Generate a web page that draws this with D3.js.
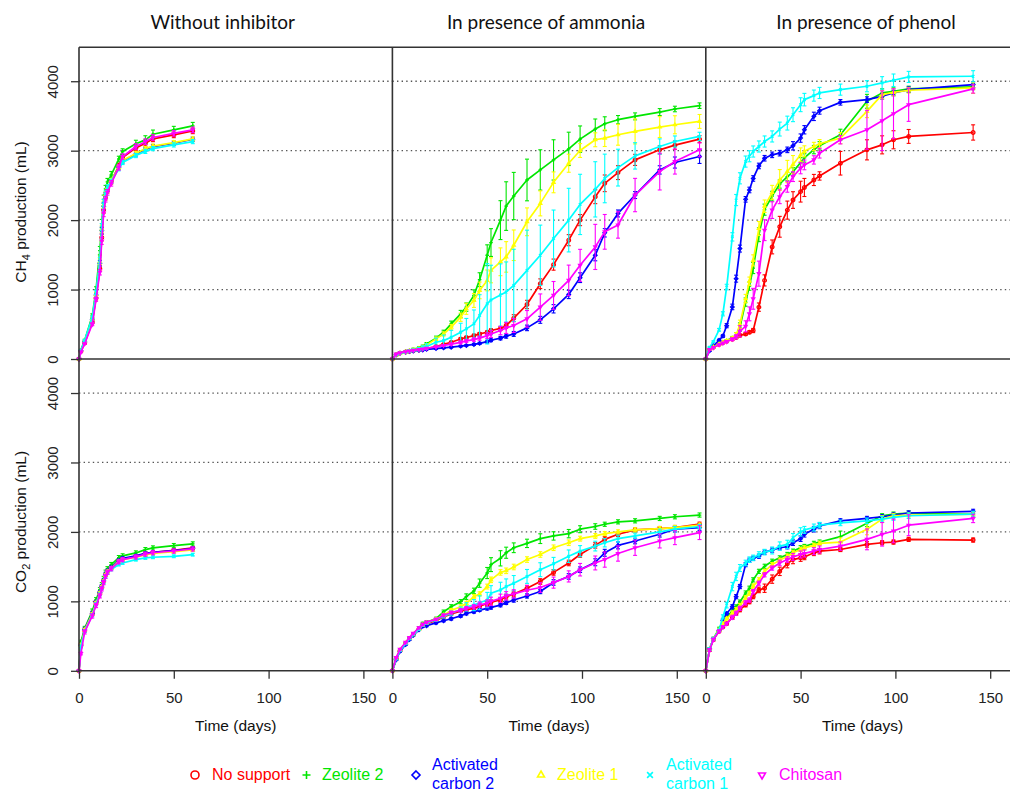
<!DOCTYPE html>
<html lang="en">
<head>
<meta charset="UTF-8">
<title>CH4 and CO2 production</title>
<script src="https://d3js.org/d3.v7.min.js"></script>
<style>
    html, body { margin: 0; background: #fff; }
    svg { display: block; font-family: 'Liberation Sans', Arial, sans-serif; }
    .title { font-family: Lato, 'Open Sans', sans-serif; font-size: 19px; fill: #111; }
    .tick text { font-size: 15px; fill: #222; font-family: 'Liberation Sans', Arial, sans-serif; }
    .tick line { stroke: #333; stroke-width: 1.3; }
    .axis-title { font-size: 15.5px; fill: #111; }
    .legend text { font-size: 16px; }
</style>
</head>
<body>
<svg width="1010" height="792"></svg>
<script>
// series (legend order)
const seriesKeys = ["noSupport", "zeolite2", "ac2", "zeolite1", "ac1", "chitosan"];
const seriesNames = [["No support"], ["Zeolite 2"], ["Activated", "carbon 2"], ["Zeolite 1"], ["Activated", "carbon 1"], ["Chitosan"]];
const seriesColors = ["#ff0000", "#00e600", "#0000ff", "#ffff00", "#00ffff", "#ff00ff"];
const seriesSymbols = ["circle", "plus", "diamond", "triangle", "cross", "triangleDown"];

const panelTitles = ["Without inhibitor", "In presence of ammonia", "In presence of phenol"];
const xTicks = [0, 50, 100, 150];
const yTicks = [0, 1000, 2000, 3000, 4000];

// sampling days
const noneTime = [0, 1, 3, 7, 9, 11, 12, 13, 14, 15, 17, 21, 23, 30, 35, 39, 50, 60];
const ammoniaTime = [0, 2, 4, 7, 9, 11, 14, 16, 18, 23, 27, 31, 36, 39, 43, 46, 50, 52, 57, 60, 64, 71, 78, 85, 93, 99, 107, 112, 119, 128, 141, 149, 162];
const phenolTime = [0, 2, 4, 7, 9, 11, 14, 16, 18, 21, 23, 25, 28, 31, 35, 39, 43, 46, 50, 52, 57, 60, 71, 85, 93, 99, 107, 141];

// CH4 (mL) without inhibitor
const ch4None = {
    noSupport: [0, 110, 230, 530, 880, 1300, 1750, 2150, 2330, 2430, 2560, 2780, 2900, 3040, 3107, 3170, 3227, 3285],
    zeolite2: [0, 130, 270, 620, 1000, 1560, 1950, 2300, 2450, 2550, 2650, 2880, 2987, 3100, 3155, 3237, 3300, 3357],
    ac2: [0, 120, 250, 570, 920, 1380, 1850, 2200, 2350, 2450, 2560, 2760, 2852, 2953, 3020, 3058, 3107, 3165],
    zeolite1: [0, 120, 255, 580, 930, 1400, 1870, 2220, 2370, 2470, 2570, 2760, 2860, 2960, 3030, 3065, 3115, 3170],
    ac1: [0, 125, 265, 600, 960, 1420, 1900, 2250, 2380, 2470, 2560, 2740, 2830, 2930, 2990, 3030, 3083, 3131],
    chitosan: [0, 100, 220, 500, 860, 1250, 1700, 2100, 2300, 2400, 2530, 2760, 2915, 3060, 3130, 3190, 3250, 3300]
};
const ch4NoneErr = {
    noSupport: [0, 10, 10, 20, 30, 40, 50, 50, 40, 40, 40, 40, 40, 40, 40, 40, 40, 40],
    zeolite2: [0, 10, 15, 30, 40, 60, 60, 60, 50, 50, 50, 40, 40, 50, 60, 60, 50, 50],
    ac2: [0, 10, 10, 20, 30, 40, 50, 50, 40, 40, 30, 30, 30, 30, 30, 30, 30, 30],
    zeolite1: [0, 10, 10, 20, 30, 40, 50, 50, 40, 40, 30, 30, 30, 30, 30, 30, 30, 30],
    ac1: [0, 10, 10, 20, 30, 40, 50, 50, 40, 40, 30, 30, 30, 30, 30, 30, 30, 30],
    chitosan: [0, 10, 10, 20, 30, 40, 50, 50, 40, 40, 40, 40, 40, 40, 40, 40, 40, 40]
};

// CO2 (mL) without inhibitor
const co2None = {
    noSupport: [0, 380, 580, 820, 980, 1120, 1200, 1290, 1380, 1430, 1480, 1580, 1610, 1649, 1688, 1707, 1735, 1769],
    zeolite2: [0, 420, 610, 860, 1024, 1168, 1240, 1330, 1420, 1470, 1530, 1630, 1655, 1697, 1745, 1769, 1803, 1827],
    ac2: [0, 360, 600, 830, 990, 1130, 1220, 1300, 1390, 1440, 1490, 1590, 1620, 1655, 1690, 1705, 1730, 1760],
    zeolite1: [0, 370, 590, 820, 980, 1120, 1210, 1290, 1380, 1430, 1480, 1575, 1600, 1635, 1670, 1690, 1715, 1740],
    ac1: [0, 350, 570, 800, 960, 1100, 1190, 1280, 1360, 1410, 1460, 1530, 1553, 1601, 1625, 1635, 1649, 1673],
    chitosan: [0, 250, 560, 790, 940, 1080, 1180, 1270, 1360, 1420, 1470, 1570, 1600, 1640, 1680, 1700, 1725, 1755]
};
const co2NoneErr = {
    noSupport: [0, 20, 20, 20, 20, 20, 20, 20, 20, 20, 20, 20, 20, 20, 20, 20, 20, 20],
    zeolite2: [0, 20, 30, 30, 30, 30, 30, 30, 30, 30, 30, 30, 30, 30, 30, 30, 30, 30],
    ac2: [0, 20, 20, 20, 20, 20, 20, 20, 20, 20, 20, 20, 20, 20, 20, 20, 20, 20],
    zeolite1: [0, 20, 20, 20, 20, 20, 20, 20, 20, 20, 20, 20, 20, 20, 20, 20, 20, 20],
    ac1: [0, 20, 20, 20, 20, 20, 20, 20, 20, 20, 20, 20, 20, 20, 20, 20, 20, 20],
    chitosan: [0, 20, 30, 30, 30, 30, 30, 30, 30, 30, 30, 30, 30, 30, 30, 30, 30, 30]
};

// CH4 (mL) with ammonia
const ch4Ammonia = {
    noSupport: [0, 60, 85, 100, 110, 120, 130, 140, 150, 180, 210, 241, 289, 310, 337, 361, 385, 410, 440, 482, 588, 785, 1084, 1359, 1711, 2000, 2337, 2530, 2684, 2867, 3012, 3079, 3166],
    zeolite2: [0, 60, 90, 110, 125, 140, 160, 180, 217, 299, 385, 506, 650, 747, 916, 1142, 1494, 1677, 2000, 2202, 2347, 2578, 2723, 2867, 3026, 3166, 3311, 3388, 3446, 3494, 3556, 3600, 3648],
    ac2: [0, 60, 85, 100, 108, 115, 125, 130, 140, 150, 160, 170, 185, 195, 210, 225, 250, 270, 300, 330, 361, 448, 564, 723, 930, 1171, 1494, 1817, 2096, 2361, 2723, 2829, 2916],
    zeolite1: [0, 60, 85, 100, 115, 130, 150, 170, 200, 290, 360, 458, 602, 723, 843, 988, 1132, 1277, 1400, 1470, 1638, 1976, 2241, 2544, 2819, 3002, 3157, 3180, 3229, 3277, 3340, 3373, 3421],
    ac1: [0, 60, 85, 100, 115, 125, 140, 160, 180, 241, 265, 313, 385, 434, 506, 626, 795, 850, 920, 964, 1060, 1277, 1494, 1735, 2000, 2226, 2443, 2600, 2756, 2925, 3060, 3132, 3205],
    chitosan: [0, 70, 90, 105, 115, 125, 135, 145, 155, 175, 195, 215, 240, 260, 280, 300, 337, 360, 410, 448, 482, 578, 747, 916, 1132, 1349, 1614, 1831, 1930, 2361, 2699, 2843, 3012]
};
const ch4AmmoniaErr = {
    noSupport: [0, 5, 5, 5, 5, 5, 5, 5, 10, 10, 10, 10, 15, 15, 20, 20, 20, 25, 30, 40, 50, 60, 70, 80, 80, 80, 100, 120, 100, 80, 60, 60, 50],
    zeolite2: [0, 10, 10, 10, 10, 15, 15, 20, 20, 30, 30, 40, 50, 60, 80, 100, 150, 200, 280, 350, 340, 300, 290, 290, 240, 190, 145, 100, 60, 50, 50, 40, 40],
    ac2: [0, 5, 5, 5, 5, 5, 5, 5, 5, 10, 10, 10, 10, 10, 15, 15, 20, 20, 25, 30, 35, 40, 50, 60, 60, 70, 80, 60, 50, 50, 60, 80, 100],
    zeolite1: [0, 10, 10, 10, 10, 15, 15, 15, 20, 25, 30, 40, 60, 80, 100, 120, 150, 180, 200, 220, 220, 200, 180, 150, 130, 100, 100, 120, 150, 180, 150, 130, 100],
    ac1: [0, 10, 10, 10, 15, 20, 25, 30, 40, 60, 80, 100, 130, 150, 200, 300, 578, 500, 450, 434, 520, 578, 434, 410, 458, 434, 398, 350, 265, 190, 110, 80, 60],
    chitosan: [0, 5, 5, 5, 5, 5, 5, 5, 10, 10, 10, 15, 20, 20, 25, 30, 40, 50, 60, 80, 100, 120, 190, 200, 220, 230, 325, 250, 190, 240, 265, 180, 100]
};

// CO2 (mL) with ammonia
const co2Ammonia = {
    noSupport: [0, 170, 290, 390, 460, 520, 600, 650, 680, 720, 777, 820, 860, 880, 898, 930, 971, 990, 1019, 1068, 1107, 1189, 1286, 1417, 1553, 1675, 1806, 1893, 1966, 2029, 2048, 2063, 2111],
    zeolite2: [0, 180, 300, 400, 470, 530, 620, 680, 700, 752, 850, 922, 995, 1068, 1150, 1262, 1408, 1529, 1620, 1700, 1772, 1835, 1903, 1942, 1975, 2039, 2078, 2110, 2145, 2160, 2194, 2218, 2243],
    ac2: [0, 160, 280, 380, 450, 510, 590, 640, 650, 690, 720, 750, 790, 825, 850, 874, 900, 913, 946, 980, 1019, 1078, 1141, 1272, 1359, 1456, 1563, 1699, 1806, 1869, 1966, 2039, 2063],
    zeolite1: [0, 180, 300, 400, 465, 520, 600, 660, 690, 740, 801, 870, 922, 971, 1068, 1107, 1213, 1310, 1417, 1440, 1495, 1602, 1675, 1772, 1844, 1903, 1942, 1975, 2000, 2029, 2048, 2063, 2097],
    ac1: [0, 170, 290, 390, 460, 520, 600, 660, 690, 735, 786, 830, 880, 920, 946, 980, 1019, 1116, 1165, 1213, 1262, 1359, 1456, 1543, 1650, 1723, 1796, 1844, 1903, 1942, 2000, 2039, 2078],
    chitosan: [0, 190, 310, 410, 480, 540, 620, 670, 700, 740, 800, 840, 870, 900, 922, 950, 971, 1000, 1044, 1080, 1107, 1160, 1200, 1270, 1359, 1456, 1553, 1602, 1689, 1772, 1869, 1917, 1990]
};
const co2AmmoniaErr = {
    noSupport: [0, 10, 10, 10, 10, 10, 10, 15, 15, 15, 20, 20, 20, 25, 25, 25, 30, 30, 30, 35, 40, 40, 40, 40, 40, 40, 40, 40, 30, 30, 30, 30, 30],
    zeolite2: [0, 10, 10, 10, 10, 15, 15, 20, 20, 20, 25, 30, 30, 40, 40, 60, 80, 100, 110, 80, 70, 60, 70, 60, 60, 50, 40, 30, 30, 30, 30, 30, 30],
    ac2: [0, 10, 10, 10, 10, 10, 10, 10, 15, 15, 15, 20, 20, 20, 20, 20, 25, 25, 25, 25, 30, 30, 30, 40, 40, 40, 50, 50, 50, 40, 40, 40, 40],
    zeolite1: [0, 10, 10, 10, 10, 10, 15, 15, 15, 20, 20, 25, 25, 30, 30, 30, 35, 40, 40, 40, 40, 40, 40, 40, 40, 35, 35, 30, 30, 30, 30, 30, 30],
    ac1: [0, 10, 10, 10, 10, 10, 15, 15, 15, 20, 25, 30, 40, 60, 80, 100, 110, 110, 110, 110, 110, 100, 100, 90, 90, 80, 70, 60, 50, 40, 40, 40, 30],
    chitosan: [0, 10, 10, 10, 10, 10, 10, 15, 15, 15, 20, 20, 25, 25, 30, 40, 50, 60, 60, 60, 60, 70, 70, 80, 80, 90, 100, 110, 110, 110, 100, 100, 100]
};

// CH4 (mL) with phenol
const ch4Phenol = {
    noSupport: [0, 140, 170, 210, 235, 255, 285, 310, 340, 361, 385, 410, 747, 1132, 1614, 1904, 2144, 2289, 2410, 2470, 2578, 2636, 2819, 3012, 3084, 3157, 3205, 3262],
    zeolite2: [0, 140, 170, 215, 241, 265, 305, 340, 460, 820, 1050, 1310, 1790, 2150, 2345, 2520, 2626, 2695, 2830, 2895, 3015, 3070, 3229, 3711, 3831, 3855, 3889, 3918],
    ac2: [0, 120, 190, 270, 330, 480, 750, 1157, 1590, 2299, 2434, 2600, 2780, 2891, 2940, 2964, 3012, 3070, 3181, 3301, 3494, 3576, 3696, 3735, 3783, 3831, 3879, 3952],
    zeolite1: [0, 140, 170, 215, 240, 262, 300, 340, 500, 870, 1120, 1420, 1880, 2200, 2400, 2578, 2700, 2800, 2940, 2990, 3060, 3100, 3181, 3566, 3807, 3840, 3870, 3904],
    ac1: [0, 169, 250, 420, 651, 1036, 1759, 2289, 2602, 2843, 2920, 2988, 3060, 3132, 3205, 3311, 3397, 3518, 3662, 3735, 3793, 3831, 3879, 3928, 3976, 4014, 4062, 4072],
    chitosan: [0, 135, 165, 205, 230, 250, 285, 320, 400, 470, 650, 867, 1229, 1855, 2144, 2337, 2482, 2626, 2747, 2795, 2867, 2964, 3157, 3301, 3431, 3532, 3662, 3889]
};
const ch4PhenolErr = {
    noSupport: [0, 10, 10, 10, 10, 10, 10, 15, 20, 20, 20, 30, 60, 80, 100, 150, 130, 120, 150, 130, 80, 60, 170, 145, 130, 130, 100, 110],
    zeolite2: [0, 10, 10, 10, 10, 15, 20, 40, 60, 60, 60, 80, 100, 80, 70, 60, 60, 60, 70, 60, 60, 60, 80, 100, 60, 50, 40, 40],
    ac2: [0, 10, 10, 15, 20, 30, 40, 50, 50, 40, 40, 40, 40, 40, 40, 40, 40, 60, 60, 60, 60, 50, 40, 40, 40, 40, 40, 40],
    zeolite1: [0, 10, 10, 10, 10, 15, 20, 40, 60, 60, 60, 80, 100, 90, 100, 150, 160, 130, 100, 80, 60, 60, 80, 90, 60, 50, 40, 80],
    ac1: [0, 10, 10, 20, 30, 40, 60, 80, 80, 80, 80, 80, 80, 80, 80, 100, 100, 100, 100, 90, 80, 80, 80, 80, 90, 90, 80, 80],
    chitosan: [0, 10, 10, 10, 10, 15, 20, 30, 80, 80, 100, 150, 180, 150, 120, 100, 80, 70, 80, 70, 60, 70, 60, 280, 430, 360, 240, 60]
};

// CO2 (mL) with phenol
const co2Phenol = {
    noSupport: [0, 300, 450, 570, 631, 680, 770, 830, 880, 950, 995, 1068, 1165, 1189, 1320, 1432, 1543, 1602, 1626, 1640, 1699, 1723, 1747, 1820, 1844, 1854, 1893, 1883],
    zeolite2: [0, 315, 461, 607, 704, 777, 860, 920, 990, 1120, 1189, 1310, 1432, 1505, 1578, 1626, 1675, 1723, 1772, 1790, 1835, 1854, 1932, 2126, 2233, 2257, 2272, 2257],
    ac2: [0, 315, 461, 582, 728, 825, 922, 1068, 1213, 1529, 1592, 1620, 1650, 1709, 1738, 1772, 1786, 1845, 1903, 1966, 2039, 2087, 2160, 2194, 2218, 2243, 2272, 2296],
    zeolite1: [0, 315, 461, 590, 680, 750, 830, 880, 940, 1050, 1116, 1220, 1310, 1432, 1529, 1592, 1650, 1699, 1747, 1770, 1806, 1835, 1854, 2039, 2184, 2233, 2243, 2257],
    ac1: [0, 315, 461, 582, 777, 946, 1213, 1359, 1480, 1553, 1600, 1626, 1675, 1709, 1733, 1796, 1820, 1917, 2000, 2029, 2063, 2097, 2130, 2160, 2184, 2208, 2233, 2257],
    chitosan: [0, 300, 450, 570, 631, 680, 770, 830, 900, 980, 1019, 1141, 1262, 1383, 1480, 1553, 1602, 1641, 1675, 1690, 1723, 1747, 1796, 1893, 1966, 2014, 2097, 2194]
};
const co2PhenolErr = {
    noSupport: [0, 20, 20, 20, 20, 20, 30, 30, 30, 30, 30, 30, 40, 60, 60, 60, 60, 60, 50, 40, 40, 40, 30, 40, 30, 30, 30, 30],
    zeolite2: [0, 20, 20, 20, 20, 20, 30, 30, 30, 30, 30, 30, 30, 30, 30, 30, 30, 30, 30, 30, 30, 30, 80, 50, 30, 30, 30, 30],
    ac2: [0, 20, 20, 20, 20, 20, 30, 30, 30, 30, 30, 30, 30, 30, 30, 30, 30, 40, 40, 40, 40, 40, 30, 30, 30, 30, 30, 30],
    zeolite1: [0, 20, 20, 20, 20, 20, 30, 30, 30, 30, 30, 30, 30, 30, 30, 30, 30, 30, 30, 30, 30, 30, 60, 80, 50, 30, 30, 30],
    ac1: [0, 20, 20, 20, 30, 40, 60, 60, 50, 40, 40, 40, 40, 40, 50, 60, 60, 60, 60, 50, 50, 40, 40, 40, 40, 40, 40, 40],
    chitosan: [0, 20, 20, 20, 20, 20, 30, 30, 30, 30, 30, 30, 30, 30, 30, 40, 40, 50, 50, 50, 50, 50, 60, 150, 170, 170, 150, 60]
};

const panels = [
    { col: 0, row: 0, time: noneTime, vals: ch4None, err: ch4NoneErr },
    { col: 1, row: 0, time: ammoniaTime, vals: ch4Ammonia, err: ch4AmmoniaErr },
    { col: 2, row: 0, time: phenolTime, vals: ch4Phenol, err: ch4PhenolErr },
    { col: 0, row: 1, time: noneTime, vals: co2None, err: co2NoneErr },
    { col: 1, row: 1, time: ammoniaTime, vals: co2Ammonia, err: co2AmmoniaErr },
    { col: 2, row: 1, time: phenolTime, vals: co2Phenol, err: co2PhenolErr }
];

// layout
const W = 1010, H = 792;
const colLeft = [79, 392.4, 705.8];
const panelW = 313.4;
const rowTop = [47.2, 359];
const panelH = 311.8;

const svg = d3.select("svg");
svg.append("rect").attr("width", W).attr("height", H).attr("fill", "#fff");

const xScales = colLeft.map(x0 => d3.scaleLinear().domain([0, 165.3]).range([x0, x0 + panelW]));
const yScales = rowTop.map(y0 => d3.scaleLinear().domain([0, 4490]).range([y0 + panelH, y0]));

function markerPath(type, r) {
    const a = r * 0.72, h = r * 0.866;
    switch (type) {
        case "circle": return `M${r},0A${r},${r} 0 1,1 ${-r},0A${r},${r} 0 1,1 ${r},0Z`;
        case "plus": return `M${-r},0H${r}M0,${-r}V${r}`;
        case "diamond": return `M0,${-r}L${r},0L0,${r}L${-r},0Z`;
        case "triangle": return `M0,${-r}L${h},${r / 2}L${-h},${r / 2}Z`;
        case "cross": return `M${-a},${-a}L${a},${a}M${-a},${a}L${a},${-a}`;
        case "triangleDown": return `M0,${r}L${h},${-r / 2}L${-h},${-r / 2}Z`;
    }
}

// dotted grid lines
const grid = svg.append("g");
panels.forEach(p => {
    const x = xScales[p.col], y = yScales[p.row];
    grid.selectAll(null)
        .data(yTicks.slice(1))
        .enter().append("line")
        .attr("x1", x.range()[0]).attr("x2", x.range()[1])
        .attr("y1", d => y(d)).attr("y2", d => y(d))
        .attr("stroke", "#555")
        .attr("stroke-width", 1.3)
        .attr("stroke-dasharray", "1.4,3.2");
});

// series
panels.forEach(p => {
    const x = xScales[p.col], y = yScales[p.row];
    const g = svg.append("g");
    seriesKeys.forEach((key, i) => {
        const vals = p.vals[key], errs = p.err[key];
        const n = Math.min(p.time.length, vals.length);
        const pts = d3.range(n).map(j => ({ t: p.time[j], v: vals[j], e: errs[j] || 0 }));
        const color = seriesColors[i];
        const sg = g.append("g");

        const eb = sg.selectAll(null).data(pts.filter(d => d.e > 0)).enter().append("g")
            .attr("stroke", color).attr("stroke-width", 1.1);
        eb.append("line")
            .attr("x1", d => x(d.t)).attr("x2", d => x(d.t))
            .attr("y1", d => y(d.v - d.e)).attr("y2", d => y(d.v + d.e));
        eb.append("line")
            .attr("x1", d => x(d.t) - 2).attr("x2", d => x(d.t) + 2)
            .attr("y1", d => y(d.v + d.e)).attr("y2", d => y(d.v + d.e));
        eb.append("line")
            .attr("x1", d => x(d.t) - 2).attr("x2", d => x(d.t) + 2)
            .attr("y1", d => y(d.v - d.e)).attr("y2", d => y(d.v - d.e));

        sg.append("path")
            .datum(pts)
            .attr("fill", "none")
            .attr("stroke", color)
            .attr("stroke-width", 1.7)
            .attr("stroke-linejoin", "round")
            .attr("d", d3.line().x(d => x(d.t)).y(d => y(d.v)));

        sg.selectAll(null).data(pts).enter().append("path")
            .attr("transform", d => `translate(${x(d.t)},${y(d.v)})`)
            .attr("d", markerPath(seriesSymbols[i], 1.8))
            .attr("fill", "none")
            .attr("stroke", color)
            .attr("stroke-width", 1.3);
    });
});

// panel frames
const frame = svg.append("g").attr("stroke", "#333").attr("stroke-width", 1.6);
frame.append("line").attr("x1", colLeft[0]).attr("x2", W).attr("y1", rowTop[0]).attr("y2", rowTop[0]);
frame.append("line").attr("x1", colLeft[0]).attr("x2", W).attr("y1", rowTop[1]).attr("y2", rowTop[1]);
frame.append("line").attr("x1", colLeft[0]).attr("x2", W).attr("y1", rowTop[1] + panelH).attr("y2", rowTop[1] + panelH);
colLeft.forEach(cx => {
    frame.append("line").attr("x1", cx).attr("x2", cx).attr("y1", rowTop[0]).attr("y2", rowTop[1] + panelH);
});

// x axes
xScales.forEach((x, c) => {
    const ax = svg.append("g")
        .attr("transform", `translate(0,${rowTop[1] + panelH})`)
        .call(d3.axisBottom(x).tickValues(xTicks).tickSize(8).tickFormat(d3.format("d")));
    ax.select(".domain").remove();
    ax.selectAll(".tick text").attr("y", 22).attr("fill", "#222");

    svg.append("text")
        .attr("class", "axis-title")
        .attr("x", colLeft[c] + panelW / 2)
        .attr("y", 731)
        .attr("text-anchor", "middle")
        .text("Time (days)");
});

// y axes (left column only)
yScales.forEach((y, r) => {
    const ax = svg.append("g")
        .attr("transform", `translate(${colLeft[0]},0)`)
        .call(d3.axisLeft(y).tickValues(yTicks).tickSize(8).tickFormat(d3.format("d")));
    ax.select(".domain").remove();
    ax.selectAll(".tick text")
        .attr("transform", "rotate(-90)")
        .attr("x", 0)
        .attr("y", -21.5)
        .attr("dy", 0)
        .attr("text-anchor", "middle")
        .attr("fill", "#222");
});

// y axis titles with subscripts
const yTitleParts = [["CH", "4", " production (mL)"], ["CO", "2", " production (mL)"]];
const yTitleCenters = [212, 522];
yTitleParts.forEach((parts, r) => {
    const t = svg.append("text")
        .attr("class", "axis-title")
        .attr("transform", `translate(26,${yTitleCenters[r]}) rotate(-90)`)
        .attr("text-anchor", "middle");
    t.append("tspan").text(parts[0]);
    t.append("tspan").attr("font-size", "11px").attr("dy", 4).text(parts[1]);
    t.append("tspan").attr("dy", -4).text(parts[2]);
});

// panel titles
const titleOffsets = [-13, -3, 3.5];
panelTitles.forEach((title, c) => {
    svg.append("text")
        .attr("class", "title")
        .attr("x", colLeft[c] + panelW / 2 + titleOffsets[c])
        .attr("y", 29)
        .attr("text-anchor", "middle")
        .text(title);
});

// legend
const legendSymbolX = [195, 306.5, 416, 541, 650, 762];
const legendTextX = [212, 322, 432, 557, 666, 779];
const legend = svg.append("g").attr("class", "legend");
seriesKeys.forEach((key, i) => {
    legend.append("path")
        .attr("transform", `translate(${legendSymbolX[i]},775)`)
        .attr("d", markerPath(seriesSymbols[i], 4))
        .attr("fill", "none")
        .attr("stroke", seriesColors[i])
        .attr("stroke-width", 1.6);
    const lines = seriesNames[i];
    lines.forEach((line, k) => {
        legend.append("text")
            .attr("x", legendTextX[i])
            .attr("y", lines.length === 1 ? 780 : 770 + k * 19)
            .attr("fill", seriesColors[i])
            .text(line);
    });
});
</script>
</body>
</html>
